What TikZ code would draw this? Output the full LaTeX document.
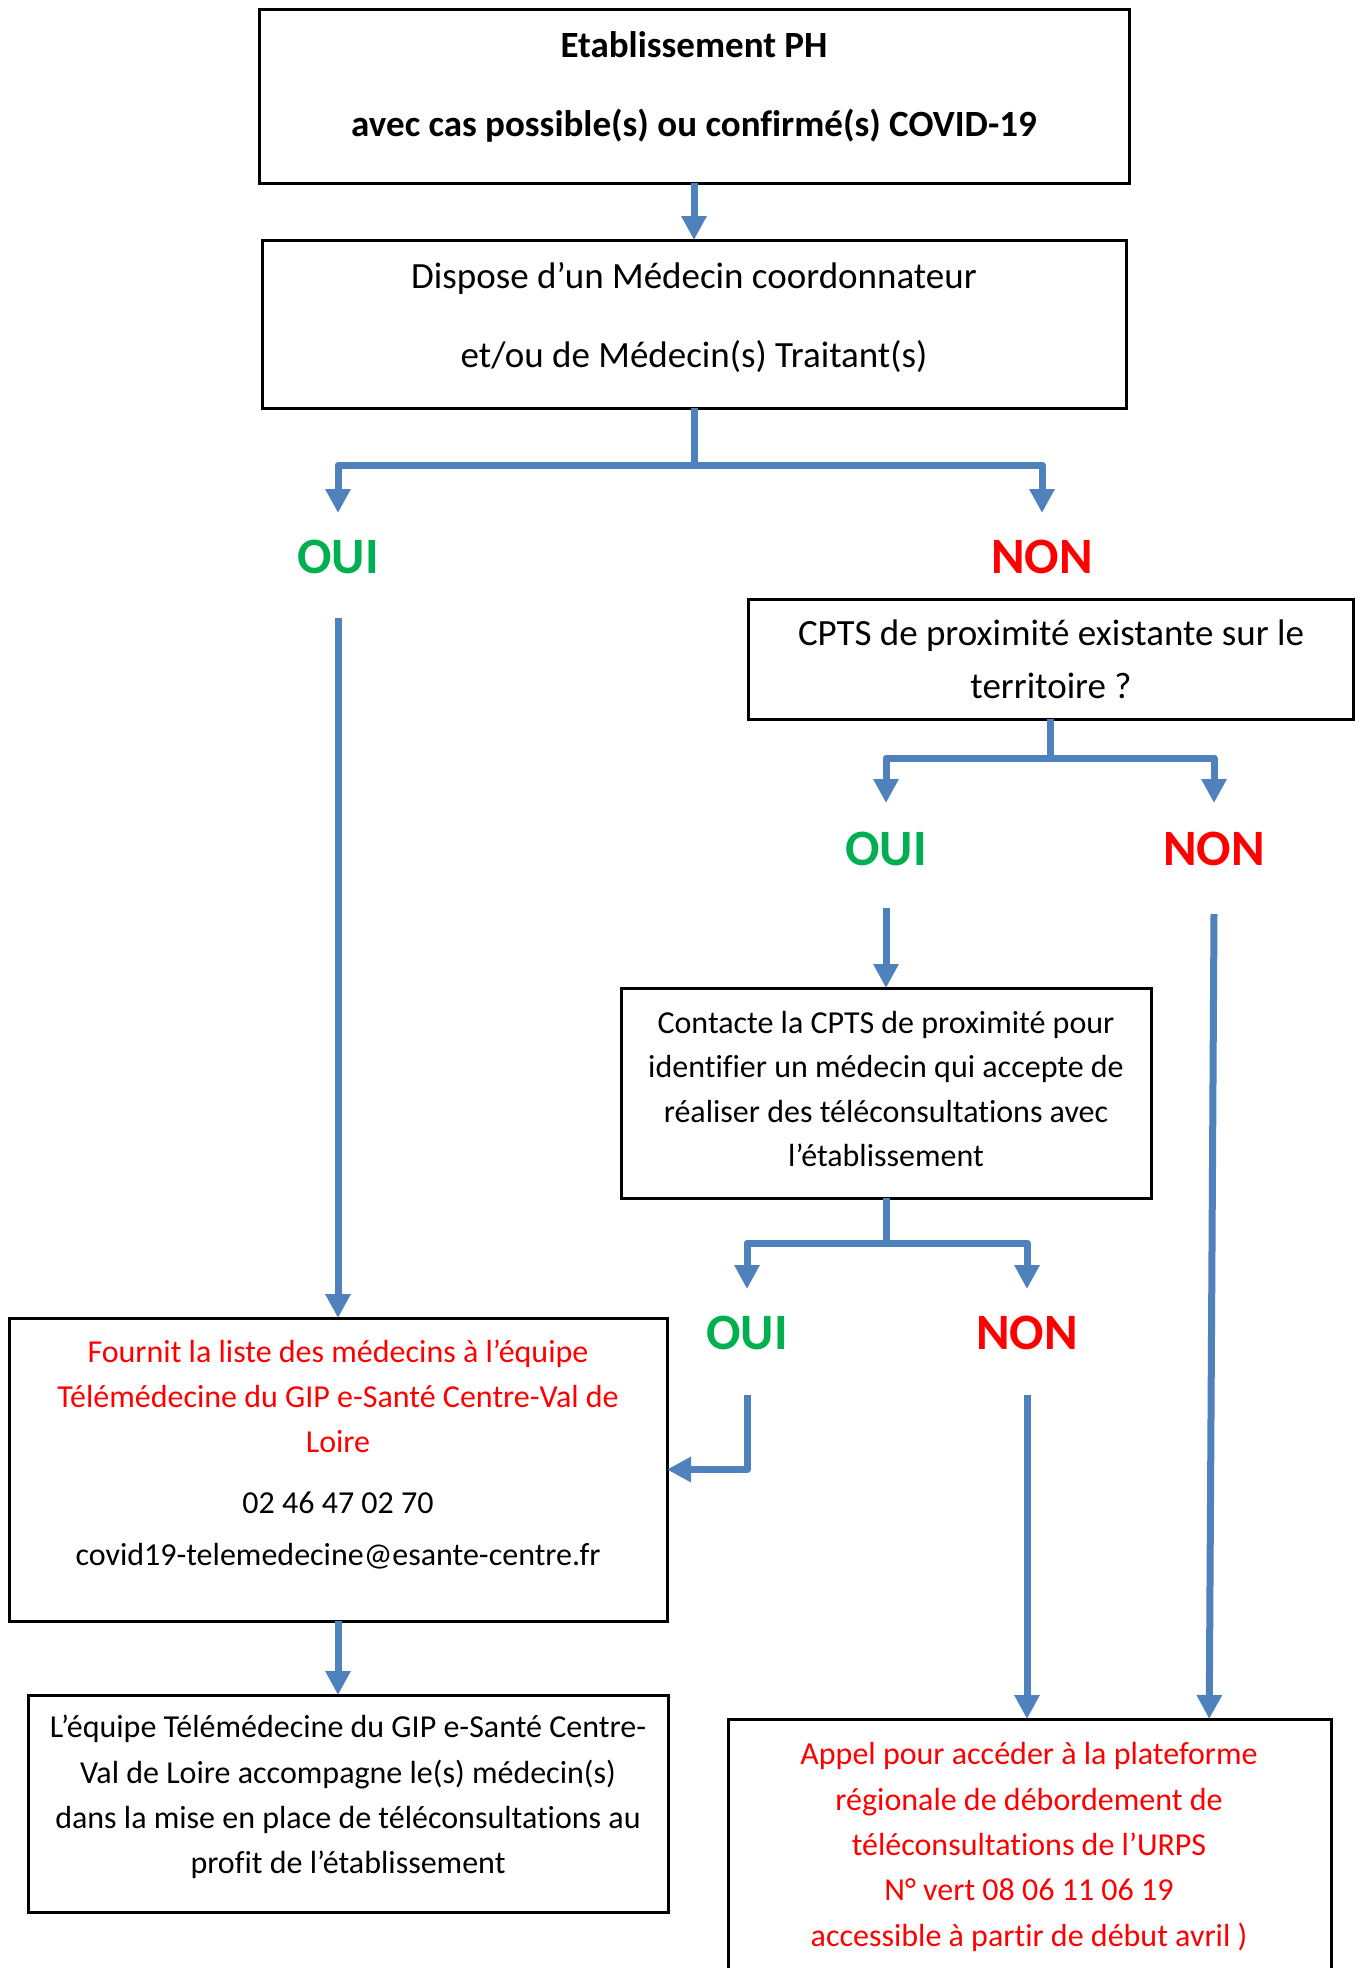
\documentclass[tikz,border=0pt]{standalone}
\usepackage{fontspec}
\setmainfont{Carlito}[Ligatures={NoCommon}]
\usetikzlibrary{arrows.meta,calc}
\definecolor{arrowblue}{HTML}{4F81BD}
\definecolor{okgreen}{HTML}{00B050}
\definecolor{nored}{HTML}{FF0000}
\tikzset{
  box/.style={draw=black, line width=3pt, inner sep=0pt, outer sep=0pt, rectangle},
  conn/.style={draw=arrowblue, line width=7pt, line join=round},
  arr/.style={conn, -{Triangle[length=24pt,width=24pt]}},
  yes/.style={text=okgreen, font=\fontsize{51}{60}\selectfont\bfseries, inner sep=0pt},
  no/.style={text=nored, font=\fontsize{51}{60}\selectfont\bfseries, inner sep=0pt},
  big/.style={align=center, inner sep=0pt},
}
\begin{document}
\begin{tikzpicture}[x=1pt,y=-1pt]
\useasboundingbox (0,0) rectangle (1362,1968);
\clip (0,0) rectangle (1362,1968);
\fill[white] (0,0) rectangle (1362,1968);

% boxes
\node[box, minimum width=870pt, minimum height=174pt] (b1) at (694,96) {};
\node[box, minimum width=864pt, minimum height=168pt] (b2) at (694,324) {};
\node[box, minimum width=605pt, minimum height=120pt] (cpts) at (1050.5,659) {};
\node[box, minimum width=530pt, minimum height=210pt] (contacte) at (886,1093) {};
\node[box, minimum width=658pt, minimum height=303pt] (fournit) at (338,1469.5) {};
\node[box, minimum width=640pt, minimum height=217pt] (equipe) at (348,1803.5) {};
\node[box, minimum width=603pt, minimum height=282pt] (appel) at (1029.5,1860) {};

% texts
\node[big, font=\fontsize{37}{79}\selectfont\bfseries] (t1) at (694,87)
  {Etablissement PH\\avec cas possible(s) ou confirmé(s) COVID-19};
\node[big, font=\fontsize{37}{79}\selectfont] (t2) at (694,318)
  {Dispose d’un Médecin coordonnateur\\et/ou de Médecin(s) Traitant(s)};
\node[big, font=\fontsize{37}{53}\selectfont] (t3) at (1051,659.5)
  {CPTS de proximité existante sur le\\territoire ?};
\node[big, font=\fontsize{32}{44.5}\selectfont] (t4) at (886,1089)
  {Contacte la CPTS de proximité pour\\identifier un médecin qui accepte de\\réaliser des téléconsultations avec\\l’établissement};
\node[big, font=\fontsize{32}{45}\selectfont] (t5) at (338,1455)
  {\textcolor{nored}{Fournit la liste des médecins à l’équipe}\\
   \textcolor{nored}{Télémédecine du GIP e-Santé Centre-Val de}\\
   \textcolor{nored}{Loire}\\[16pt]
   02 46 47 02 70\\[7pt]
   covid19-telemedecine@esante-centre.fr};
\node[big, font=\fontsize{32}{45.3}\selectfont] (t6) at (348,1797)
  {L’équipe Télémédecine du GIP e-Santé Centre-\\Val de Loire accompagne le(s) médecin(s)\\dans la mise en place de téléconsultations au\\profit de l’établissement};
\node[big, font=\fontsize{32}{45.3}\selectfont, text=nored] (t7) at (1029,1847)
  {Appel pour accéder à la plateforme\\régionale de débordement de\\téléconsultations de l’URPS\\N° vert 08 06 11 06 19\\accessible à partir de début avril )};

% yes / no labels
\node[yes] (oui1) at (338,557) {OUI};
\node[no]  (non1) at (1042,557) {NON};
\node[yes] (oui2) at (886,849) {OUI};
\node[no]  (non2) at (1214,849) {NON};
\node[yes] (oui3) at (747,1333) {OUI};
\node[no]  (non3) at (1027,1333) {NON};

% coordinates
\coordinate (j1) at (694,465);
\coordinate (e1l) at (338,513);
\coordinate (e1r) at (1042,513);
\coordinate (s1) at (338,618);
\coordinate (j2) at (1050.5,758);
\coordinate (e2l) at (886,803);
\coordinate (e2r) at (1214,803);
\coordinate (s2l) at (886,908);
\coordinate (s2r) at (1214,914);
\coordinate (j3) at (886,1243);
\coordinate (e3l) at (747,1289);
\coordinate (e3r) at (1027,1289);
\coordinate (s3l) at (747,1395);
\coordinate (s3r) at (1027,1395);

% connectors
\draw[arr] (b1.south) -- (b2.north);
\draw[conn] (b2.south) -- (j1);
\draw[arr] (j1) -| (e1l);
\draw[arr] (j1) -| (e1r);
\draw[arr] (s1) -- (fournit.north);
\draw[conn] (cpts.south) -- (j2);
\draw[arr] (j2) -| (e2l);
\draw[arr] (j2) -| (e2r);
\draw[arr] (s2l) -- (contacte.north);
\draw[arr] (s2r) -- ($(appel.north west)!0.798!(appel.north east)$);
\draw[conn] (contacte.south) -- (j3);
\draw[arr] (j3) -| (e3l);
\draw[arr] (j3) -| (e3r);
\draw[arr] (s3l) |- (fournit.east);
\draw[arr] (s3r) -- (s3r |- appel.north);
\draw[arr] (fournit.south) -- (fournit.south |- equipe.north);
\end{tikzpicture}
\end{document}
